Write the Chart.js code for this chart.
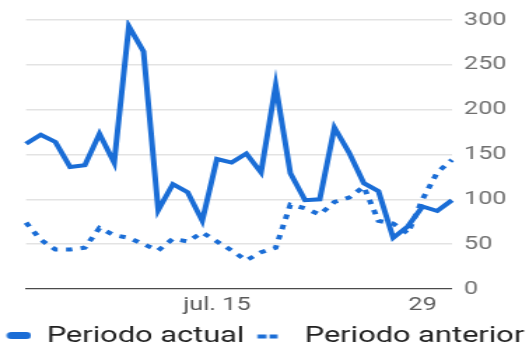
<!DOCTYPE html>
<html><head><meta charset="utf-8">
<script src="https://cdn.jsdelivr.net/npm/chart.js@4"></script>
<style>html,body{margin:0;padding:0;background:#fff;overflow:hidden}
#c{display:block;width:529px !important;height:348px !important}</style></head>
<body><canvas id="c" width="378" height="348" style="width:529px;height:348px"></canvas>
<script>
const categories = ['jul. 2','jul. 3','jul. 4','jul. 5','jul. 6','jul. 7','jul. 8','jul. 9','jul. 10','jul. 11',
  'jul. 12','jul. 13','jul. 14','jul. 15','jul. 16','jul. 17','jul. 18','jul. 19','jul. 20','jul. 21',
  'jul. 22','jul. 23','jul. 24','jul. 25','jul. 26','jul. 27','jul. 28','jul. 29','jul. 30','jul. 31'];
const actualValues = [162,172,164,136,138,173,141,293,265,88,117,108,76,145,141,151,130,227,129,99,100,180,152,118,109,57,70,92,87,99];
const previousValues = [74,55,44,44,46,68,60,57,50,43,56,53,63,53,43,32,41,46,94,90,83,97,102,114,76,73,62,100,130,144];
const seriesNames = ['Periodo actual', 'Periodo anterior'];
const xTickDays = ['jul. 15', 'jul. 29'];
const xTickText = ['jul. 15', '29'];
const yTickMin = 0, yTickMax = 300, yTickStep = 50;

const BLUE = '#1a6dd6';
function legendMark(kind) {
  const c = document.createElement('canvas');
  c.width = 24; c.height = 24;
  const g = c.getContext('2d');
  g.fillStyle = BLUE; g.strokeStyle = BLUE;
  if (kind === 'solid') {
    g.lineWidth = 7; g.lineCap = 'round';
    g.beginPath(); g.moveTo(9.8, 11.5); g.lineTo(20.4, 11.5); g.stroke();
  } else {
    g.fillRect(1.3, 10.5, 6.4, 4);
    g.fillRect(9.9, 10.5, 5.7, 4);
  }
  return c;
}
const marks = [legendMark('solid'), legendMark('dash')];

new Chart(document.getElementById('c'), {
  type: 'line',
  data: {
    labels: categories,
    datasets: [
      {label: seriesNames[0], data: actualValues, borderColor: BLUE, borderWidth: 4, pointRadius: 0, tension: 0, fill: false, yAxisID: 'y', borderJoinStyle: 'miter'},
      {label: seriesNames[1], data: previousValues, borderColor: BLUE, borderWidth: 4, borderDash: [4.5, 6], pointRadius: 0, tension: 0, fill: false, yAxisID: 'y'}
    ]
  },
  options: {
    responsive: false, animation: false, devicePixelRatio: 1,
    layout: {padding: {top: 20, left: -20, right: -15, bottom: -9}},
    plugins: {
      tooltip: {enabled: false},
      legend: {
        position: 'bottom', align: 'center',
        labels: {
          usePointStyle: true, pointStyleWidth: 24, padding: 8, color: '#212121',
          font: {family: 'Roboto', size: 22},
          generateLabels: (chart) => chart.data.datasets.map((ds, i) => ({
            text: ds.label, pointStyle: marks[i], datasetIndex: i, hidden: false,
            fontColor: '#212121', lineWidth: 0, strokeStyle: 'rgba(0,0,0,0)', fillStyle: 'rgba(0,0,0,0)'
          }))
        }
      }
    },
    scales: {
      x: {
        type: 'category', offset: false,
        grid: {drawOnChartArea: false, drawTicks: true, tickLength: 4, lineWidth: 1,
          color: (c) => xTickDays.includes(categories[c.index]) ? '#b5b5b5' : 'rgba(0,0,0,0)'},
        border: {display: true, color: '#4a4a4a', width: 1.3},
        ticks: {autoSkip: false, maxRotation: 0, minRotation: 0, padding: 1.2, color: '#5a5a5a',
          font: {family: 'Roboto', size: 18},
          callback: function (v, i) { const k = xTickDays.indexOf(categories[i]); return k >= 0 ? xTickText[k] : null; }}
      },
      y: {
        position: 'right', min: yTickMin, max: yTickMax,
        grid: {color: (c) => (c.tick && c.tick.value === 0) ? 'rgba(0,0,0,0)' : '#e3e3e3', lineWidth: 1.5, drawTicks: false},
        border: {display: false},
        ticks: {stepSize: yTickStep, padding: 8.7, color: '#707070', font: {family: 'Roboto', size: 18}},
        afterFit: (s) => { s.width = 70.1; }
      },
      yL: {
        position: 'left', display: true,
        grid: {display: false}, border: {display: false}, ticks: {display: false},
        afterFit: (s) => { s.width = 38.6; }
      }
    }
  }
});
</script>
</body></html>
